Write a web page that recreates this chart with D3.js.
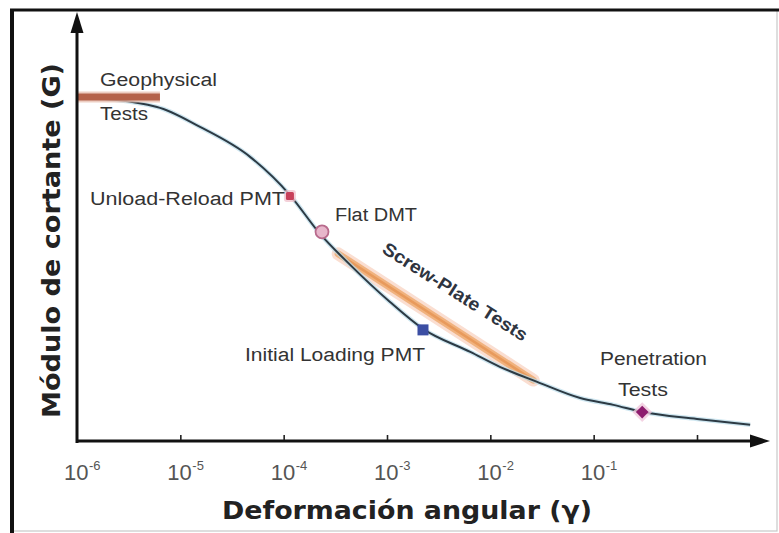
<!DOCTYPE html>
<html>
<head>
<meta charset="utf-8">
<script src="https://cdn.jsdelivr.net/npm/d3@7/dist/d3.min.js"></script>
<style>
  html, body { margin: 0; padding: 0; background: #fff; }
  svg { display: block; }
</style>
</head>
<body>
<svg id="chart" width="779" height="533"></svg>
<script>
// Shear modulus degradation curve vs. shear strain, with in-situ test ranges
const curveStrain = [1e-6, 5.94e-6, 1.55e-5, 4.73e-5, 1.15e-4, 2.25e-4, 4.4e-4, 1.07e-3, 2.23e-3, 6.4e-3, 1.25e-2, 2.84e-2, 7.4e-2, 0.155, 0.30, 1.0, 3.27];
const curveG      = [1.000, 0.971, 0.913, 0.826, 0.715, 0.602, 0.512, 0.404, 0.326, 0.259, 0.215, 0.172, 0.125, 0.105, 0.084, 0.064, 0.047];

// Test ranges drawn as bands
const geoBandStrain = [1e-6, 6.35e-6];
const geoBandG      = [1.0, 1.0];
const screwBandStrain = [3.37e-4, 2.6e-2];
const screwBandG      = [0.544, 0.177];

// Point tests
const pointNames  = ["Unload-Reload PMT", "Flat DMT", "Initial Loading PMT", "Penetration Tests"];
const pointStrain = [1.15e-4, 2.35e-4, 2.23e-3, 0.295];
const pointG      = [0.712, 0.608, 0.323, 0.084];

// Axis ticks (decades)
const tickExponents = [-6, -5, -4, -3, -2, -1];
const tickValues = [1e-5, 1e-4, 1e-3, 1e-2, 1e-1, 1e0];

const xTitle = "Deformación angular (γ)";
const yTitle = "Módulo de cortante (G)";

const svg = d3.select("#chart");

// Frame
svg.append("rect").attr("x", 11).attr("y", 10).attr("width", 766).attr("height", 521)
  .attr("fill", "none").attr("stroke", "#c8c8c8").attr("stroke-width", 1.2);
svg.append("line").attr("x1", 10).attr("x2", 779).attr("y1", 10).attr("y2", 10)
  .attr("stroke", "#111").attr("stroke-width", 3);
svg.append("line").attr("x1", 12).attr("x2", 12).attr("y1", 9).attr("y2", 533)
  .attr("stroke", "#111").attr("stroke-width", 4);

const x = d3.scaleLog().domain([1e-6, 1e0]).range([77, 697]);
const y = d3.scaleLinear().domain([0, 1]).range([441, 97]);

const line = d3.line().x(d => x(d[0])).y(d => y(d[1])).curve(d3.curveMonotoneX);

// Screw-plate band
const screw = d3.zip(screwBandStrain, screwBandG);
svg.append("path").attr("d", line(screw)).attr("fill", "none")
  .attr("stroke", "#f9d6c6").attr("stroke-width", 13).attr("stroke-linecap", "round").attr("opacity", 0.8);
svg.append("path").attr("d", line(screw)).attr("fill", "none")
  .attr("stroke", "#f0b27e").attr("stroke-width", 7).attr("stroke-linecap", "round");
svg.append("path").attr("d", line(screw)).attr("fill", "none")
  .attr("stroke", "#e89a5c").attr("stroke-width", 2.5).attr("stroke-linecap", "round");

// Curve
const curve = d3.zip(curveStrain, curveG);
svg.append("path").attr("d", line(curve)).attr("fill", "none")
  .attr("stroke", "#b9dcea").attr("stroke-width", 4.5).attr("opacity", 0.7);
svg.append("path").attr("d", line(curve)).attr("fill", "none")
  .attr("stroke", "#2c3a44").attr("stroke-width", 2);

// Geophysical band
const geo = d3.zip(geoBandStrain, geoBandG);
svg.append("path").attr("d", line(geo)).attr("fill", "none")
  .attr("stroke", "#e9c2b4").attr("stroke-width", 11).attr("opacity", 0.8);
svg.append("path").attr("d", line(geo)).attr("fill", "none")
  .attr("stroke", "#b4624a").attr("stroke-width", 7);

// Axes with arrows
const axisG = svg.append("g");
axisG.append("line").attr("x1", 77).attr("x2", 77).attr("y1", 443).attr("y2", 28)
  .attr("stroke", "#111").attr("stroke-width", 3);
axisG.append("path").attr("d", "M77,12 L70.5,33 L83.5,33 Z").attr("fill", "#111");
axisG.append("line").attr("x1", 76).attr("x2", 755).attr("y1", 441).attr("y2", 441)
  .attr("stroke", "#111").attr("stroke-width", 3);
axisG.append("path").attr("d", "M770,441 L750,434.5 L750,447.5 Z").attr("fill", "#111");

const xAxis = d3.axisBottom(x).tickValues(tickValues).tickSizeInner(-5).tickSizeOuter(0).tickFormat("");
const xa = svg.append("g").attr("transform", "translate(0,440)").call(xAxis);
xa.select(".domain").remove();
xa.selectAll(".tick line").attr("stroke", "#222").attr("stroke-width", 1.6);

// Tick labels 10^n
const lbl = svg.append("g").selectAll("text").data(tickExponents).join("text")
  .attr("x", d => x(Math.pow(10, d)) - 13)
  .attr("y", 480)
  .attr("font-family", "Liberation Sans, Arial, sans-serif")
  .attr("fill", "#555");
lbl.append("tspan").attr("font-size", 22).text("10");
lbl.append("tspan").attr("font-size", 13).attr("dy", -10).attr("dx", 0.5).text(d => "-" + Math.abs(d));

// Axis titles
svg.append("text").attr("x", 222).attr("y", 519)
  .attr("font-family", "DejaVu Sans, Verdana, sans-serif").attr("font-weight", "bold")
  .attr("font-size", 24).attr("fill", "#222")
  .attr("textLength", 370).attr("lengthAdjust", "spacingAndGlyphs")
  .text(xTitle);
svg.append("text").attr("transform", "translate(60,418) rotate(-90)")
  .attr("font-family", "DejaVu Sans, Verdana, sans-serif").attr("font-weight", "bold")
  .attr("font-size", 24).attr("fill", "#222")
  .attr("textLength", 355).attr("lengthAdjust", "spacingAndGlyphs")
  .text(yTitle);

// Point markers
const px = i => x(pointStrain[i]);
const py = i => y(pointG[i]);
// Unload-Reload PMT
svg.append("rect").attr("x", px(0) - 6).attr("y", py(0) - 6).attr("width", 12).attr("height", 12)
  .attr("rx", 3).attr("fill", "#f1c6cf").attr("opacity", 0.8);
svg.append("rect").attr("x", px(0) - 4).attr("y", py(0) - 4).attr("width", 8).attr("height", 8)
  .attr("rx", 1.5).attr("fill", "#c8405a");
// Flat DMT
svg.append("circle").attr("cx", px(1)).attr("cy", py(1)).attr("r", 6.5)
  .attr("fill", "#e7b6cb").attr("stroke", "#b86a8c").attr("stroke-width", 1.8);
// Initial Loading PMT
svg.append("rect").attr("x", px(2) - 5.5).attr("y", py(2) - 5.5).attr("width", 11).attr("height", 11)
  .attr("fill", "#3b4ea3");
// Penetration Tests
svg.append("path").attr("transform", `translate(${px(3)},${py(3)}) rotate(45)`)
  .attr("d", "M-7,-7 H7 V7 H-7 Z").attr("fill", "#f0c8dc").attr("opacity", 0.8);
svg.append("path").attr("transform", `translate(${px(3)},${py(3)}) rotate(45)`)
  .attr("d", "M-4.5,-4.5 H4.5 V4.5 H-4.5 Z").attr("fill", "#8e1c6e");

// Annotation labels
const ann = svg.append("g")
  .attr("font-family", "Liberation Sans, Arial, sans-serif")
  .attr("font-size", 18).attr("fill", "#333");
function label(text, xPos, yPos, len) {
  return ann.append("text").attr("x", xPos).attr("y", yPos)
    .attr("textLength", len).attr("lengthAdjust", "spacingAndGlyphs").text(text);
}
label("Geophysical", 100, 86, 117);
label("Tests", 100, 120, 48);
label("Unload-Reload PMT", 90, 205, 195);
label("Flat DMT", 335, 221, 82);
label("Initial Loading PMT", 245, 361, 180);
label("Penetration", 600, 365, 107);
label("Tests", 618, 396, 50);
ann.append("text")
  .attr("transform", "translate(452,297) rotate(32.4)")
  .attr("text-anchor", "middle")
  .attr("textLength", 168).attr("lengthAdjust", "spacingAndGlyphs")
  .attr("font-weight", "bold").attr("fill", "#2e3440")
  .text("Screw-Plate Tests");
</script>
</body>
</html>
